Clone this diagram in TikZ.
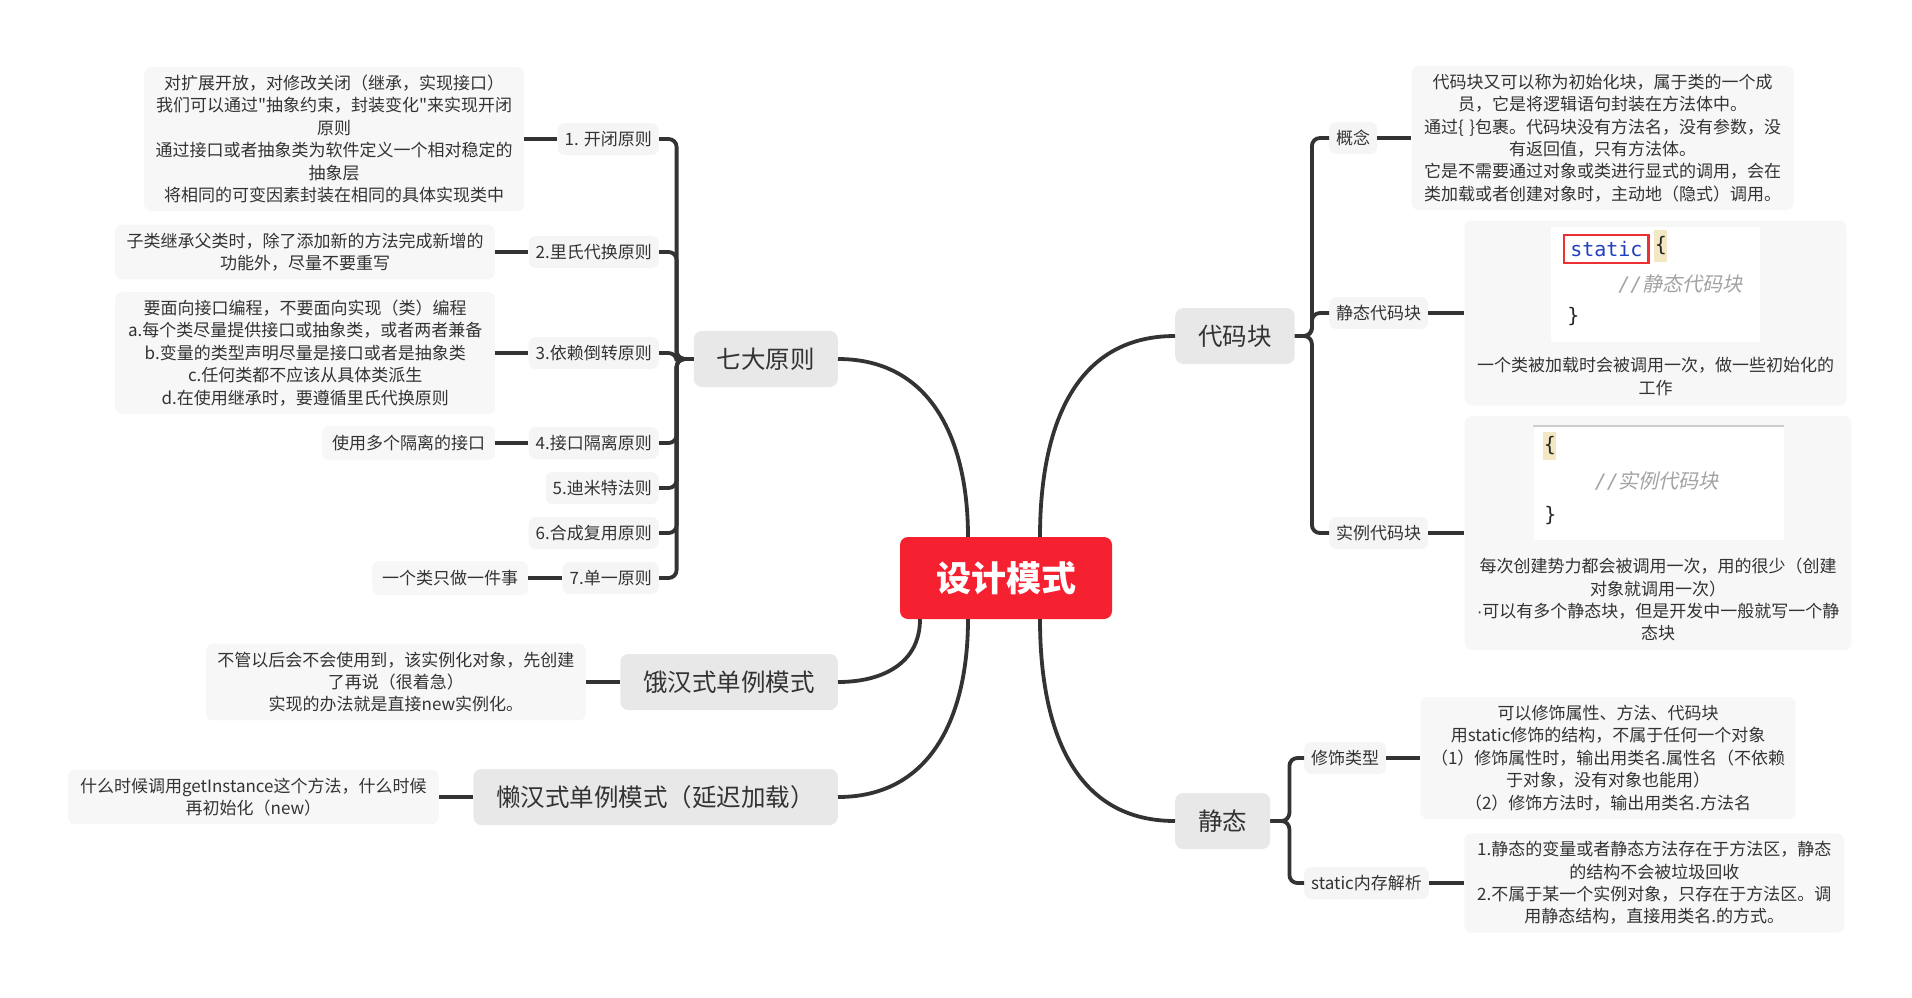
\documentclass[tikz,border=0pt]{standalone}
\usepackage{fontspec}
\setmainfont{Noto Sans CJK SC}
\newfontfamily\codefont{DejaVu Sans Mono}
\newfontfamily\dotfont{Liberation Sans}
\newfontfamily\quotefont[Ligatures=TeXOff]{Noto Sans CJK SC}
\newfontfamily\cmtfont[FakeSlant=0.22]{Noto Sans CJK SC}
\usetikzlibrary{positioning,calc}
\definecolor{ink}{HTML}{333333}
\definecolor{rootred}{HTML}{F52030}
\definecolor{mainbg}{HTML}{E8E8E8}
\definecolor{subbg}{HTML}{F5F5F5}
\definecolor{leafbg}{HTML}{F7F7F7}
\definecolor{kwblue}{HTML}{1F3FBF}
\definecolor{boxred}{HTML}{EE3035}
\definecolor{hlyellow}{HTML}{F3E7C4}
\definecolor{cmtgray}{HTML}{A3A3A3}
\tikzset{
  rootnode/.style={fill=rootred,text=white,rounded corners=8pt,minimum height=82pt,inner xsep=36pt,font=\fontsize{35}{40}\selectfont\bfseries},
  mainnode/.style={fill=mainbg,text=ink,rounded corners=8pt,minimum height=56pt,inner xsep=23pt,font=\fontsize{24.5}{28}\selectfont},
  subnode/.style={fill=subbg,text=ink,rounded corners=7pt,minimum height=32pt,inner xsep=7pt,font=\fontsize{17}{20}\selectfont},
  leafnode/.style={fill=leafbg,text=ink,rounded corners=7pt,inner xsep=6pt,inner ysep=8pt,align=center,font=\fontsize{17}{22.4}\selectfont},
  wideleaf/.style={leafnode,text width=368pt},
  shortleaf/.style={leafnode,inner xsep=10pt,inner ysep=0pt,minimum height=34pt},
  leaftext/.style={inner sep=0pt,align=center,text=ink,font=\fontsize{17}{22.4}\selectfont},
  codeimg/.style={fill=white,inner sep=0pt,anchor=north west},
  kwbox/.style={draw=boxred,line width=2.2pt,text=kwblue,inner xsep=6pt,inner ysep=0pt,minimum height=28pt,font=\codefont\fontsize{20}{24}\selectfont},
  hlbox/.style={fill=hlyellow,inner sep=0pt,minimum width=13pt,text=black!85,font=\codefont\fontsize{20}{24}\selectfont},
  bracetxt/.style={inner sep=0pt,text=black!85,font=\codefont\fontsize{20}{24}\selectfont},
  cmt/.style={inner sep=0pt,text=cmtgray,font=\cmtfont\fontsize{20}{24}\selectfont},
  link/.style={draw=ink,line width=3.8pt,rounded corners=8pt},
  curvelink/.style={draw=ink,line width=3.8pt,looseness=1.1},
}
\begin{document}
\begin{tikzpicture}[x=1pt,y=1pt]
\useasboundingbox (0,0) rectangle (1912,-997);

\node[rootnode] (root) at (1006,-578) {设计模式};
\node[mainnode,anchor=east] (qd) at (838,-359) {七大原则};
\node[mainnode,anchor=east] (eh) at (838,-682) {饿汉式单例模式};
\node[mainnode,anchor=east] (lh) at (838,-797) {懒汉式单例模式（延迟加载）};
\node[mainnode,anchor=west] (dmk) at (1175,-336) {代码块};
\node[mainnode,anchor=west] (jt) at (1175,-821) {静态};

\node[subnode,anchor=east] (p1) at (659,-139) {1. 开闭原则};
\node[subnode,anchor=east] (p2) at (659,-252) {2.里氏代换原则};
\node[subnode,anchor=east] (p3) at (659,-353) {3.依赖倒转原则};
\node[subnode,anchor=east] (p4) at (659,-443) {4.接口隔离原则};
\node[subnode,anchor=east] (p5) at (659,-488) {5.迪米特法则};
\node[subnode,anchor=east] (p6) at (659,-533) {6.合成复用原则};
\node[subnode,anchor=east] (p7) at (659,-578) {7.单一原则};

\node[subnode,anchor=west] (c1) at (1329,-138) {概念};
\node[subnode,anchor=west] (c2) at (1329,-313) {静态代码块};
\node[subnode,anchor=west] (c3) at (1329,-533) {实例代码块};
\node[subnode,anchor=west] (s1) at (1304,-758) {修饰类型};
\node[subnode,anchor=west] (s2) at (1304,-883) {static内存解析};

\node[wideleaf,left=33pt of p1] (l1) {对扩展开放，对修改关闭（继承，实现接口）\\我们可以通过{\quotefont "}抽象约束，封装变化{\quotefont "}来实现开闭\\原则\\通过接口或者抽象类为软件定义一个相对稳定的\\抽象层\\将相同的可变因素封装在相同的具体实现类中};
\node[wideleaf,left=33pt of p2] (l2) {子类继承父类时，除了添加新的方法完成新增的\\功能外，尽量不要重写};
\node[wideleaf,left=33pt of p3] (l3) {要面向接口编程，不要面向实现（类）编程\\a.每个类尽量提供接口或抽象类，或者两者兼备\\b.变量的类型声明尽量是接口或者是抽象类\\c.任何类都不应该从具体类派生\\d.在使用继承时，要遵循里氏代换原则};
\node[shortleaf,left=33pt of p4] (l4) {使用多个隔离的接口};
\node[shortleaf,left=34pt of p7] (l7) {一个类只做一件事};
\node[wideleaf,left=34pt of eh] (le) {不管以后会不会使用到，该实例化对象，先创建\\了再说（很着急）\\实现的办法就是直接new实例化。};
\node[wideleaf,text width=359pt,left=34pt of lh] (ll) {什么时候调用getInstance这个方法，什么时候\\再初始化（new）};

\node[wideleaf,text width=370pt,right=34pt of c1] (r1) {代码块又可以称为初始化块，属于类的一个成\\员，它是将逻辑语句封装在方法体中。\\通过\{ \}包裹。代码块没有方法名，没有参数，没\\有返回值，只有方法体。\\它是不需要通过对象或类进行显式的调用，会在\\类加载或者创建对象时，主动地（隐式）调用。};
\node[leafnode,minimum width=382pt,minimum height=185pt,right=36pt of c2] (r2) {};
\node[leafnode,minimum width=387pt,minimum height=234pt,right=36pt of c3] (r3) {};
\node[wideleaf,text width=363pt,right=34pt of s1] (t1) {可以修饰属性、方法、代码块\\用static修饰的结构，不属于任何一个对象\\（1）修饰属性时，输出用类名.属性名（不依赖\\于对象，没有对象也能用）\\（2）修饰方法时，输出用类名.方法名};
\node[wideleaf,right=35pt of s2] (t2) {1.静态的变量或者静态方法存在于方法区，静态\\的结构不会被垃圾回收\\2.不属于某一个实例对象，只存在于方法区。调\\用静态结构，直接用类名.的方式。};

\node[codeimg,minimum width=209pt,minimum height=115pt] (img2) at ($(r2.north west)+(86,-6)$) {};
\node[kwbox] (kw) at ($(img2.north west)+(56,-23)$) {static};
\node[hlbox,minimum height=32pt] (ob2) at ($(img2.north west)+(110.5,-19.5)$) {\{};
\node[cmt] (cm2) at ($(img2.north west)+(130,-58)$) {{\codefont\itshape //}静态代码块};
\node[bracetxt] (cb2) at ($(img2.north west)+(23,-90)$) {\}};
\node[leaftext] (r2t) at ($(r2.north)+(0,-156)$) {一个类被加载时会被调用一次，做一些初始化的\\工作};

\node[codeimg,minimum width=250pt,minimum height=114pt] (img3) at ($(r3.north west)+(69,-10)$) {};
\draw[black!20,line width=2pt] (img3.north west) -- (img3.north east);
\node[hlbox,minimum height=28pt] (ob3) at ($(img3.north west)+(16.5,-20)$) {\{};
\node[cmt] (cm3) at ($(img3.north west)+(123.5,-55)$) {{\codefont\itshape //}实例代码块};
\node[bracetxt] (cb3) at ($(img3.north west)+(17,-90)$) {\}};
\node[leaftext] (r3t) at ($(r3.north)+(0,-184)$) {每次创建势力都会被调用一次，用的很少（创建\\对象就调用一次）\\{\dotfont ·}可以有多个静态块，但是开发中一般就写一个静\\态块};

\draw[curvelink] ([xshift=-38pt]root.north) to[out=90,in=0] (qd.east);
\draw[curvelink] ([xshift=-86pt]root.south) to[out=-90,in=0] (eh.east);
\draw[curvelink] ([xshift=-38pt]root.south) to[out=-90,in=0] (lh.east);
\draw[curvelink] ([xshift=34pt]root.north) to[out=90,in=180] (dmk.west);
\draw[curvelink] ([xshift=34pt]root.south) to[out=-90,in=180] (jt.west);

\draw[link] (qd.west) -- ++(-17,0) |- (p1.east);
\draw[link] (qd.west) -- ++(-17,0) |- (p2.east);
\draw[link] (qd.west) -- ++(-17,0) |- (p3.east);
\draw[link] (qd.west) -- ++(-17,0) |- (p4.east);
\draw[link] (qd.west) -- ++(-17,0) |- (p5.east);
\draw[link] (qd.west) -- ++(-17,0) |- (p6.east);
\draw[link] (qd.west) -- ++(-17,0) |- (p7.east);
\draw[link] (dmk.east) -- ++(17,0) |- (c1.west);
\draw[link] (dmk.east) -- ++(17,0) |- (c2.west);
\draw[link] (dmk.east) -- ++(17,0) |- (c3.west);
\draw[link] (jt.east) -- ++(19,0) |- (s1.west);
\draw[link] (jt.east) -- ++(19,0) |- (s2.west);

\draw[link] (p1.west) -- (l1.east);
\draw[link] (p2.west) -- (l2.east);
\draw[link] (p3.west) -- (l3.east);
\draw[link] (p4.west) -- (l4.east);
\draw[link] (p7.west) -- (l7.east);
\draw[link] (eh.west) -- (le.east);
\draw[link] (lh.west) -- (ll.east);
\draw[link] (c1.east) -- (r1.west);
\draw[link] (c2.east) -- (r2.west);
\draw[link] (c3.east) -- (r3.west);
\draw[link] (s1.east) -- (t1.west);
\draw[link] (s2.east) -- (t2.west);
\end{tikzpicture}
\end{document}
